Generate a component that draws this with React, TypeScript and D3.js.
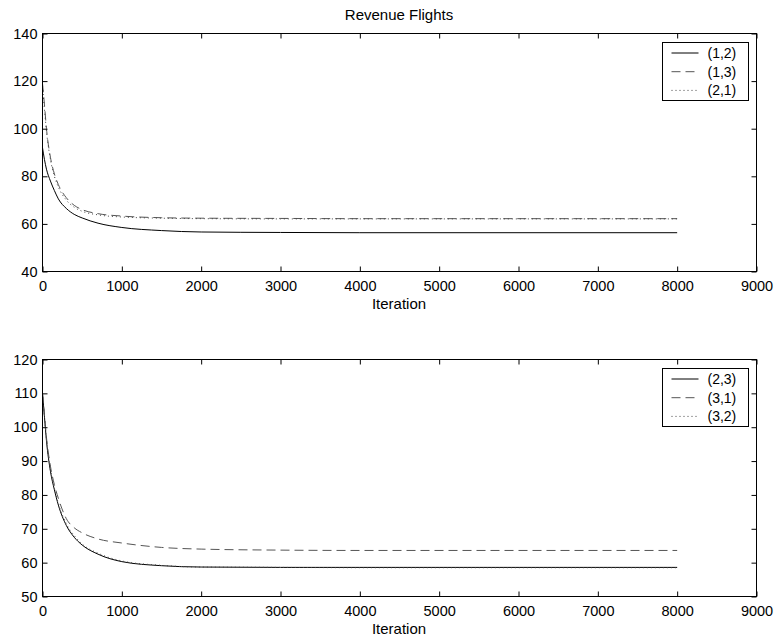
import React, { useEffect, useRef } from 'react';
import * as d3 from 'd3';

// sampled iterations shared by every series
const iterations = [0, 25, 50, 100, 150, 200, 300, 400, 500, 700, 1000, 1500, 2000, 3000, 4000, 8000];

// top panel
const flight12 = [92, 87, 83, 78, 74, 70.5, 66.5, 64, 62.5, 60.3, 58.5, 57.2, 56.6, 56.4, 56.3, 56.3];
const flight13 = [119, 110, 100, 88, 81, 76.5, 71, 67.8, 66, 64.3, 63.3, 62.6, 62.4, 62.3, 62.2, 62.2];
const flight21 = [118, 108, 99, 87, 80, 75.5, 70, 67, 65.3, 63.8, 62.9, 62.4, 62.2, 62.1, 62.1, 62.1];

// bottom panel
const flight23 = [110, 103, 96, 87, 81.5, 77, 71, 67.5, 65.2, 62.5, 60.3, 59.1, 58.7, 58.6, 58.6, 58.6];
const flight31 = [110, 103.5, 97, 88.5, 83, 79, 73, 70.3, 68.8, 67, 65.8, 64.5, 64, 63.7, 63.6, 63.6];
const flight32 = [110, 103, 96.5, 87.5, 82, 77.5, 71.5, 68, 65.5, 62.8, 60.5, 59.2, 58.7, 58.6, 58.5, 58.5];

const xTicks = d3.range(0, 9001, 1000);
const topYTicks = d3.range(40, 141, 20);
const bottomYTicks = d3.range(50, 121, 10);

const FONT = '"Liberation Sans", Arial, Helvetica, sans-serif';

const styles = [
  { stroke: '#000', dash: null },
  { stroke: '#555', dash: '9,5' },
  { stroke: '#444', dash: '1,3' },
];

const App = () => {
  const ref = useRef(null);

  useEffect(() => {
    if (!ref.current) return;
    const root = d3.select(ref.current);
    root.selectAll('*').remove();

    const left = 42.5;
    const right = 756.5;

    root.append('text')
      .attr('x', 399)
      .attr('y', 20)
      .attr('text-anchor', 'middle')
      .style('font-family', FONT)
      .style('font-size', '15px')
      .text('Revenue Flights');

    const drawPanel = (top, bottom, yDomain, yTicks, series, labels) => {
      const x = d3.scaleLinear().domain([0, 9000]).range([left, right]);
      const y = d3.scaleLinear().domain(yDomain).range([bottom, top]);
      const g = root.append('g').style('font-family', FONT).style('font-size', '14.5px');

      // lines
      series.forEach((vals, i) => {
        const line = d3.line()
          .x((d, j) => x(iterations[j]))
          .y(d => y(d))
          .curve(d3.curveMonotoneX);
        g.append('path')
          .datum(vals)
          .attr('d', line)
          .attr('fill', 'none')
          .attr('stroke', styles[i].stroke)
          .attr('stroke-width', 1)
          .attr('stroke-dasharray', styles[i].dash);
      });

      // axes, ticks pointing inward
      const bx = g.append('g').attr('transform', `translate(0,${bottom})`)
        .call(d3.axisBottom(x).tickValues(xTicks).tickSize(-5).tickPadding(9).tickFormat(d3.format('d')));
      const tx = g.append('g').attr('transform', `translate(0,${top})`)
        .call(d3.axisTop(x).tickValues(xTicks).tickSize(-5).tickFormat(() => ''));
      const ly = g.append('g').attr('transform', `translate(${left},0)`)
        .call(d3.axisLeft(y).tickValues(yTicks).tickSize(-5).tickPadding(5).tickFormat(d3.format('d')));
      const ry = g.append('g').attr('transform', `translate(${right},0)`)
        .call(d3.axisRight(y).tickValues(yTicks).tickSize(-5).tickFormat(() => ''));
      [bx, tx, ly, ry].forEach(a => {
        a.select('.domain').remove();
        a.attr('font-family', null).attr('font-size', null);
        a.selectAll('line').attr('stroke', '#000');
        a.selectAll('text').attr('fill', '#000');
      });

      g.append('rect')
        .attr('x', left).attr('y', top)
        .attr('width', right - left).attr('height', bottom - top)
        .attr('fill', 'none').attr('stroke', '#000').attr('stroke-width', 1);

      g.append('text')
        .attr('x', 399)
        .attr('y', bottom + 37)
        .attr('text-anchor', 'middle')
        .style('font-size', '15px')
        .text('Iteration');

      // legend
      const lx = 662.5;
      const lyTop = top + 9;
      const leg = g.append('g').attr('transform', `translate(${lx},${lyTop})`);
      leg.append('rect')
        .attr('width', 86).attr('height', 58)
        .attr('fill', '#fff').attr('stroke', '#000').attr('stroke-width', 1);
      labels.forEach((lab, i) => {
        const ry0 = 10.5 + i * 18.7;
        leg.append('line')
          .attr('x1', 9).attr('x2', 36)
          .attr('y1', ry0).attr('y2', ry0)
          .attr('stroke', styles[i].stroke)
          .attr('stroke-width', 1)
          .attr('stroke-dasharray', styles[i].dash);
        leg.append('text')
          .attr('x', 45)
          .attr('y', ry0)
          .attr('dy', '0.35em')
          .style('font-size', '14px')
          .text(lab);
      });
    };

    drawPanel(33.5, 271.5, [40, 140], topYTicks, [flight12, flight13, flight21], ['(1,2)', '(1,3)', '(2,1)']);
    drawPanel(359.5, 596.5, [50, 120], bottomYTicks, [flight23, flight31, flight32], ['(2,3)', '(3,1)', '(3,2)']);
  }, []);

  return (
    <svg
      ref={ref}
      width={777}
      height={643}
      style={{ position: 'absolute', left: 0, top: 0, background: '#fff' }}
    />
  );
};

export default App;
